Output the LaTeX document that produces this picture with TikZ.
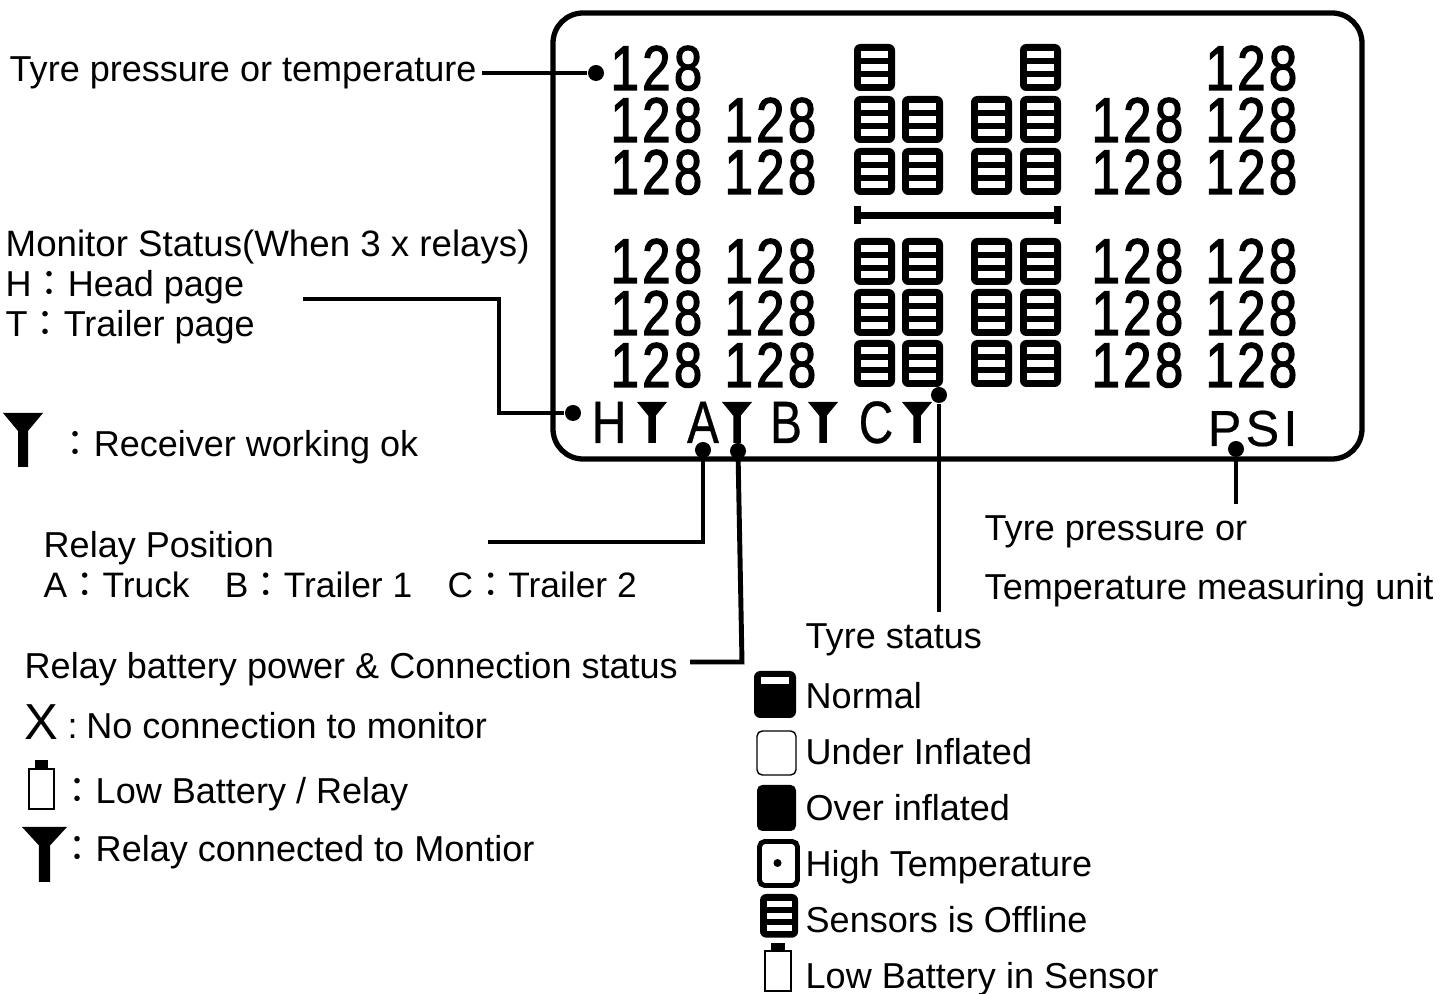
\documentclass[tikz,border=0pt]{standalone}
\usepackage{fontspec}
\setmainfont{Liberation Sans}
\newfontfamily\cjk{Noto Sans CJK TC}
\newfontfamily\lcdfont[FakeStretch=.8,FakeBold=2,LetterSpace=5.5]{Liberation Sans}
\newfontfamily\relayfont[FakeStretch=.8,FakeBold=.5]{Liberation Sans}
\newfontfamily\unitfont[LetterSpace=8,FakeBold=.4]{Liberation Sans}
\newcommand{\cln}{{\cjk ：}}
\tikzset{
    x=0.01cm, y=-0.01cm,
    lbl/.style={anchor=base west, inner sep=0pt, font=\fontsize{10.25}{12}\selectfont},
    digits/.style={anchor=base west, inner sep=0pt, font=\lcdfont\fontsize{18}{20}\selectfont},
    relay/.style={anchor=base, inner sep=0pt, font=\relayfont\fontsize{17}{20}\selectfont},
    dot/.style={circle, fill=black, inner sep=0pt, minimum size=0.16cm},
    lead/.style={line width=1.4pt},
    tyre/.pic={
        \fill[rounded corners=1.8pt] (0,0) rectangle (41,47);
        \foreach \b in {7,20,33}{
            \fill[white] (7,\b) rectangle (34,\b+7);
        }
    }
}
\newcommand{\antenna}[4]{
    \fill ({#1-#3/2},#2) -- ({#1+#3/2},#2) -- ({#1+#3/8},{#2+#4/3}) -- ({#1+#3/8},{#2+#4})
    -- ({#1-#3/8},{#2+#4}) -- ({#1-#3/8},{#2+#4/3}) -- cycle;
}
\begin{document}
\begin{tikzpicture}

    \useasboundingbox (0,0) rectangle (1456,994);

    \draw[line width=1.5pt, rounded corners=0.3cm] (553,13) rectangle (1362,459);

    \foreach \y in {142,194,283,335,387}{
    \foreach \x in {610,724,1091,1205}{
    \node[digits] at (\x,\y) {128};
}
}
    \node[digits] (toprowa) at (610,90) {128};
    \node[digits] (toprowb) at (1205,90) {128};

    \foreach \x in {854,902,971,1020}
    \foreach \y in {96,148,238,289,340}{
    \pic at (\x,\y) {tyre};
}
    \foreach \x in {854,1020}{
    \pic at (\x,44) {tyre};
}

    \fill (854,206) rectangle (861,224);
    \fill (1054,206) rectangle (1061,224);
    \fill (854,212) rectangle (1061,219);

    \foreach \x/\l in {609/H,703/A,786/B,876/C}{
    \node[relay] (relay\l) at (\x,443) {\l};
}
    \foreach \x in {652,737,823,917}{
    \antenna{\x}{402}{30}{41}
}
    \node[anchor=base west, inner sep=0pt, font=\unitfont\fontsize{14.4}{16}\selectfont] (unit) at (1207,446) {PSI};

    \node[dot] (dotvalue) at (596,73) {};
    \node[dot] (dotmonitor) at (573,413) {};
    \node[dot] (dotposition) at (703,450) {};
    \node[dot] (dotbattery) at (738,451) {};
    \node[dot] (dotstatus) at (939,395) {};
    \node[dot] (dotunit) at (1236,449) {};

    \coordinate (valuestart) at (482,73);
    \coordinate (monitorstart) at (303,299);
    \coordinate (positionstart) at (488,542);
    \coordinate (batterystart) at (690,662);
    \coordinate (batterycorner) at (742,662);
    \coordinate (statusend) at (939,612);
    \coordinate (unitend) at (1236,504);

    \draw[lead] (valuestart) -- (dotvalue);
    \draw[lead] (monitorstart) -| (499,413) -- (dotmonitor);
    \draw[lead] (positionstart) -| (dotposition);
    \draw[lead] (batterystart) -- (batterycorner) -- (dotbattery);
    \draw[lead] (dotstatus) -- (statusend);
    \draw[lead] (dotunit) -- (unitend);

    \node[lbl] (tlvalue) at (9,82) {Tyre pressure or temperature};
    \node[lbl, font=\fontsize{10.43}{12}\selectfont] (tlmonitor) at (5,257) {Monitor Status(When 3 x relays)};
    \node[lbl] (tlhead) at (5,297) {H\cln Head page};
    \node[lbl] (tltrailer) at (5,337) {T\cln Trailer page};
    \antenna{23}{413}{40}{54}
    \node[lbl] (tlreceiver) at (57,457) {\cln Receiver working ok};

    \node[lbl] (tlposition) at (43,558) {Relay Position};
    \node[lbl, font=\fontsize{10.05}{12}\selectfont] (tlrelays) at (43,598) {A\cln Truck\quad B\cln Trailer 1\quad C\cln Trailer 2};
    \node[lbl] (tlbattery) at (24,679) {Relay battery power \& Connection status};
    \node[lbl, font=\fontsize{14.4}{16}\selectfont] (tlx) at (24,740) {X};
    \node[lbl] (tlnoconn) at (67,739) {:\kern-0.04em\ No connection to monitor};
    \fill (35,760) rectangle (48,769);
    \draw[line width=0.4pt] (29,769) rectangle (54,809);
    \node[lbl] (tllow) at (59,804) {\cln Low Battery / Relay};
    \antenna{44.5}{827}{45}{55}
    \node[lbl] (tlconnected) at (59,862) {\cln Relay connected to Montior};

    \node[lbl] (tlunita) at (984,541) {Tyre pressure or};
    \node[lbl] (tlunitb) at (984,600) {Temperature measuring unit};

    \node[lbl] (tlstatus) at (805,649) {Tyre status};
    \foreach \y/\n/\t in {709/normal/Normal,765/under/Under Inflated,821/over/Over inflated,877/high/High Temperature,933/offline/Sensors is Offline,989/lowbat/Low Battery in Sensor}{
    \node[lbl] (tl\n) at (805,\y) {\t};
}

    \fill[rounded corners=1.8pt] (754,671) rectangle (796,718);
    \fill[white] (761,677) rectangle (789,684);
    \draw[line width=0.4pt, rounded corners=1.5pt] (757,731) rectangle (796,775);
    \fill[rounded corners=1.5pt] (757,785) rectangle (796,831);
    \draw[line width=1.4pt, rounded corners=1.5pt] (759.5,841.5) rectangle (797.5,885.5);
    \fill (777.5,863) circle (4);
    \pic[scale=.93] at (760,894) {tyre};
    \fill (771,943) rectangle (785,951);
    \draw[line width=0.4pt] (765,951) rectangle (791,991);

\end{tikzpicture}
\end{document}
